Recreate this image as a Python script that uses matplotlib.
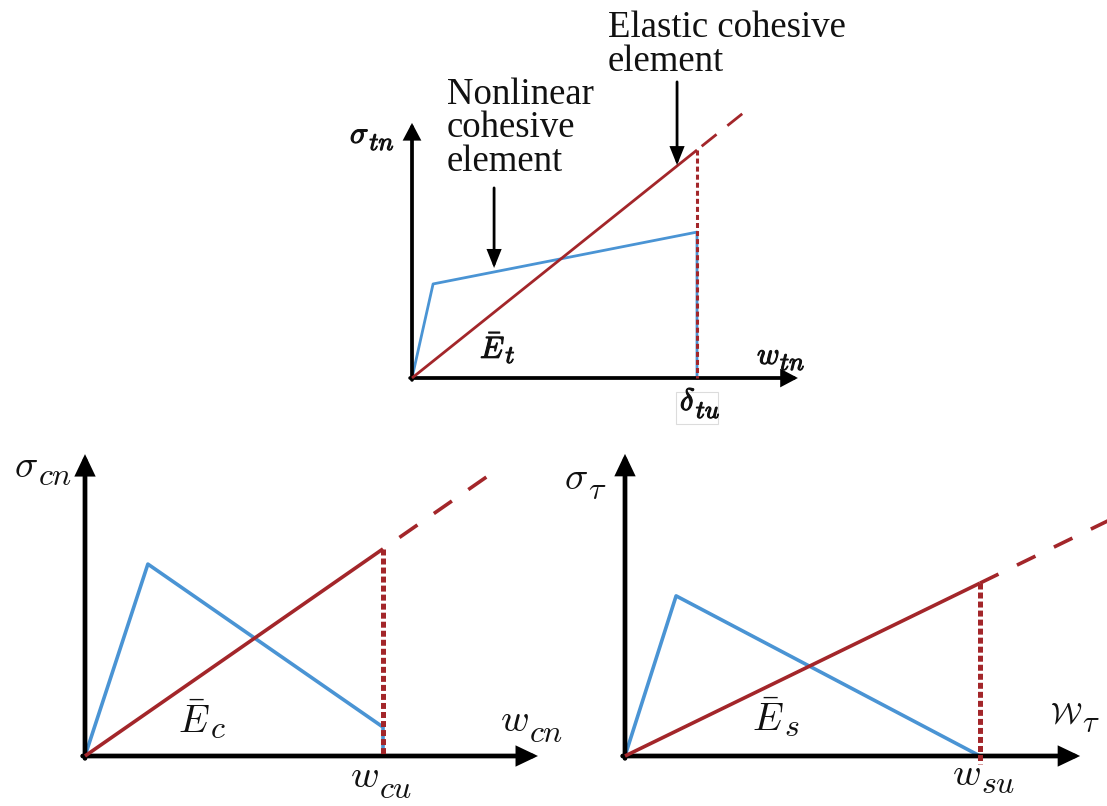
import matplotlib
matplotlib.use('Agg')
import matplotlib.pyplot as plt
import matplotlib.patheffects as pe
from matplotlib.patches import Rectangle

plt.rcParams['mathtext.fontset'] = 'cm'
plt.rcParams['lines.scale_dashes'] = False

W, H = 1107, 806
blue = '#4a94d4'
red = '#a3262a'
ink = '#111111'

# Traction-separation laws, separation normalised by the ultimate value
# tension
wt_nl = [0.0, 0.074, 1.0, 1.0]
st_nl = [0.0, 0.330, 0.512, 0.0]
Et = 0.80
wt_ext = 1.165
# compression
wc_nl = [0.0, 0.211, 1.0, 1.0]
sc_nl = [0.0, 0.644, 0.097, 0.0]
Ec = 0.695
wc_ext = 1.352
# shear
ws_nl = [0.0, 0.144, 1.0]
ss_nl = [0.0, 0.451, 0.0]
Es = 0.487
ws_ext = 1.40

fig = plt.figure(figsize=(W / 100, H / 100), dpi=100)
bg = fig.add_axes([0, 0, 1, 1])
bg.axis('off')


def panel(ox, oy, s):
    # axes whose data origin sits at pixel (ox, oy), s pixels per unit
    ax = fig.add_axes([ox / W, (H - oy) / H, s / W, s / H])
    ax.set_xlim(0, 1)
    ax.set_ylim(0, 1)
    ax.axis('off')
    return ax


def axis_arrows(ax, xend, yend, lw, hl, hw, s):
    back = lw * 1.389 / 2 / s
    style = '-|>,head_length=%g,head_width=%g' % (hl, hw)
    props = dict(arrowstyle=style, mutation_scale=10, lw=lw, color='black',
                 shrinkA=0, shrinkB=0, joinstyle='miter')
    ax.annotate('', xy=(xend, 0), xytext=(-back, 0), arrowprops=props,
                annotation_clip=False)
    ax.annotate('', xy=(0, yend), xytext=(0, -back), arrowprops=props,
                annotation_clip=False)


def elastic(ax, E, ext, lw, dash, vdash, vlw, vbottom=0.0):
    ax.plot([0, 1], [0, E], color=red, lw=lw, clip_on=False, zorder=3,
            solid_capstyle='butt')
    ax.plot([1, ext], [E, E * ext], color=red, lw=lw, clip_on=False,
            zorder=3, linestyle=dash)
    ax.plot([1, 1], [E, vbottom], color=red, lw=vlw, clip_on=False,
            zorder=4, linestyle=vdash)


def label(x, y, main, sub, fs, drop, sub_fs=None, bold=False, gap=0):
    # symbol with a large subscript; x, y = left edge and baseline in pixels
    eff = [pe.withStroke(linewidth=0.8, foreground=ink)] if bold else None
    t = bg.text(x / W, 1 - y / H, '$%s$' % main, fontsize=fs, color=ink,
                ha='left', va='baseline', transform=fig.transFigure,
                path_effects=eff)
    bg.annotate('$%s$' % sub, xy=(1, 1 - y / H), xycoords=(t, 'figure fraction'),
                xytext=(gap, -drop), textcoords='offset pixels',
                fontsize=sub_fs or fs * 0.82, color=ink, ha='left',
                va='baseline', path_effects=eff, annotation_clip=False)


# --- tension ---
ax1 = panel(412, 378, 285)
axis_arrows(ax1, 1.354, 0.895, 2.7, 0.85, 0.45, 285)
ax1.plot(wt_nl, st_nl, color=blue, lw=2.0, clip_on=False, zorder=2)
elastic(ax1, Et, wt_ext, 2.0, (19.4, (13.7, 10.0)), (0, (3.6, 2.2)), 2.2)

tprops = dict(arrowstyle='-|>,head_length=1.0,head_width=0.4', mutation_scale=10,
              lw=2.0, color='black', shrinkA=0, shrinkB=0, joinstyle='miter')
ax1.annotate('', xy=(0.288, 0.386), xytext=(0.288, 0.667), arrowprops=tprops,
             annotation_clip=False)
ax1.annotate('', xy=(0.93, 0.747), xytext=(0.93, 1.039), arrowprops=tprops,
             annotation_clip=False)

tfont = dict(family='Liberation Serif', fontsize=26.5, color=ink, va='baseline')
for txt, base in zip(['Nonlinear', 'cohesive', 'element'], [104, 137, 171]):
    fig.text(447 / W, 1 - base / H, txt, **tfont)
for txt, base in zip(['Elastic cohesive', 'element'], [37, 71]):
    fig.text(608 / W, 1 - base / H, txt, **tfont)

tfs = 22
label(350, 143, r'\sigma', 'tn', tfs, 7, bold=True)
label(757, 364, 'w', 'tn', tfs, 6, bold=True)
label(680, 410, r'\delta', 'tu', tfs, 8, bold=True)
label(480, 358, r'\bar{E}', 't', tfs, 5, bold=True)
bg.add_patch(Rectangle((676 / W, 1 - 424 / H), 42 / W, 32 / H, fill=False,
                       ec='#dcdcdc', lw=0.8, transform=fig.transFigure))

# --- compression ---
ax2 = panel(85, 756, 298)
axis_arrows(ax2, 1.520, 1.013, 3.4, 1.05, 0.5, 298)
ax2.plot(wc_nl, sc_nl, color=blue, lw=2.6, clip_on=False, zorder=2)
elastic(ax2, Ec, wc_ext, 2.6, (15.8, (15.8, 14.4)), (0, (4.3, 2.2)), 3.6)

bfs = 28
label(14, 477, r'\sigma', 'cn', bfs, 8)
label(500, 731, 'w', 'cn', bfs, 11)
label(350, 787, 'w', 'cu', bfs, 11)
label(178, 733, r'\bar{E}', 'c', bfs, 5)

# --- shear ---
ax3 = panel(625, 756, 355)
axis_arrows(ax3, 1.282, 0.851, 3.4, 1.05, 0.5, 355)
ax3.plot(ws_nl, ss_nl, color=blue, lw=2.6, clip_on=False, zorder=2)
elastic(ax3, Es, ws_ext, 2.6, (0, (14.8, 14.8)), (0, (4.3, 2.2)), 3.6, vbottom=-0.022)

label(564, 489, r'\sigma', r'\tau', bfs, 10)
label(1050, 723, r'\mathcal{W}', r'\tau', 21, 9, sub_fs=22)
label(952, 785, 'w', 'su', bfs, 8)
label(752, 731, r'\bar{E}', 's', bfs, 5)

fig.savefig('out.png', dpi=100)
